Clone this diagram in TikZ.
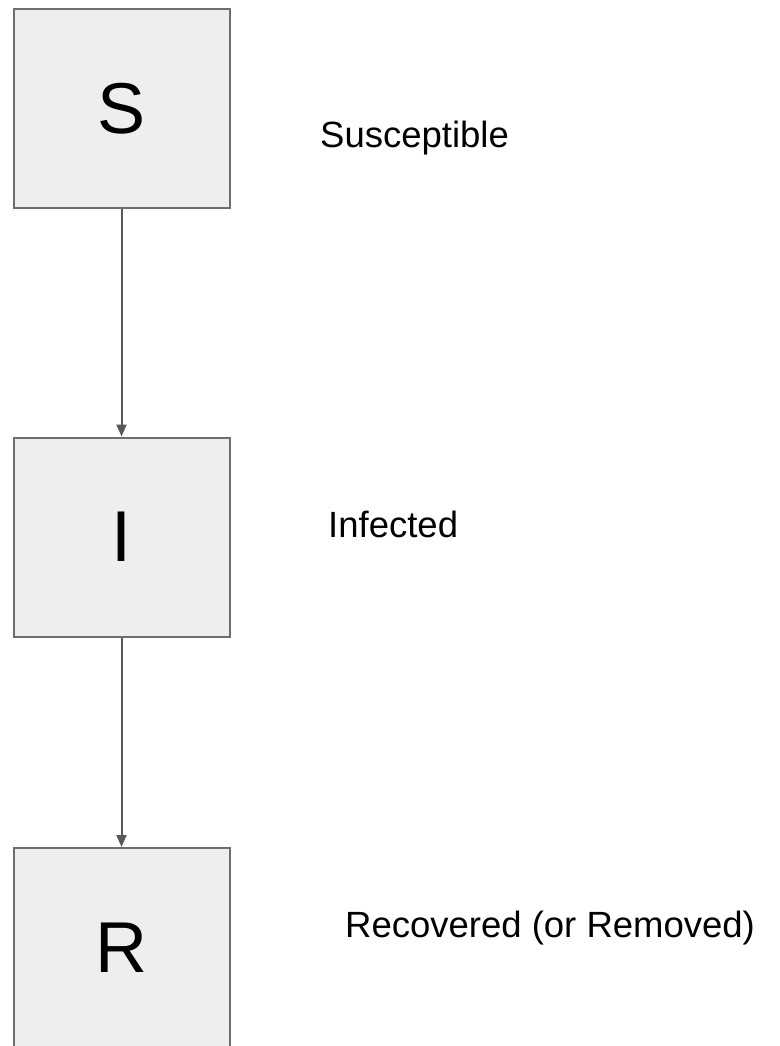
\documentclass[tikz,border=0pt]{standalone}
\usepackage{fontspec}
\setmainfont{Liberation Sans}
\usepackage{tikz}
\usetikzlibrary{arrows.meta,positioning}

\definecolor{boxfill}{HTML}{EEEEEE}
\definecolor{boxline}{HTML}{6E6E6E}
\definecolor{flowline}{HTML}{595959}

\begin{document}
\begin{tikzpicture}[%
x=1pt, y=-1pt,
node distance=428.5pt,
on grid,
compartment/.style={draw=boxline, fill=boxfill, line width=2pt,
  minimum width=216pt, minimum height=199pt, inner sep=0pt,
  font=\fontsize{72}{72}\selectfont},
caption/.style={anchor=base west, inner sep=0pt,
  font=\fontsize{36.5}{42}\selectfont},
flow/.style={draw=flowline, line width=2pt,
  -{Triangle[length=12pt,width=10pt]}}
]
\useasboundingbox (0,0) rectangle (779,1046);

\node[compartment] (S) at (121.5,108.5) {S};
\node[compartment] (I) [below=of S] {I};
\node[compartment] (R) [below=410.5pt of I] {R};

% names of the three states
\node[caption] (Slabel) at (320,147.3) {Susceptible};
\node[caption] (Ilabel) at (328,537.3) {Infected};
\node[caption] (Rlabel) at (345,937.7) {Recovered (or Removed)};

\path[flow] (S) -- (I);
\path[flow] (I) -- (R);

\end{tikzpicture}
\end{document}
